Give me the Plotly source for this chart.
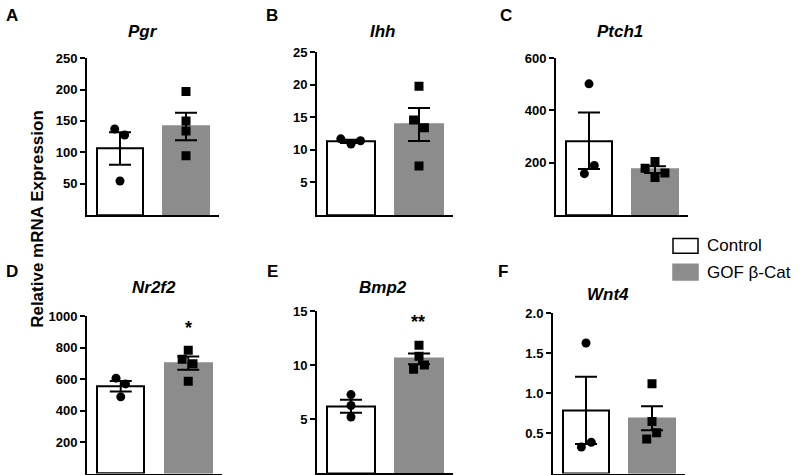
import plotly.graph_objects as go

W, H = 800, 475

# ---------------- data ----------------
genes = ["Pgr", "Ihh", "Ptch1", "Nr2f2", "Bmp2", "Wnt4"]
panel_letters = ["A", "B", "C", "D", "E", "F"]
groups = ["Control", "GOF β-Cat"]

ctrl_mean = [106, 11.3, 284, 555, 6.2, 0.79]
ctrl_sem = [26, 0.25, 108, 33, 0.6, 0.42]
gof_mean = [141, 13.9, 173, 703, 10.6, 0.69]
gof_sem = [22, 2.55, 13, 42, 0.5, 0.15]

ctrl_points = [
    [137, 127.5, 54],
    [11.7, 10.9, 11.4],
    [502, 189, 158],
    [607, 570, 488],
    [7.28, 6.27, 5.2],
    [1.63, 0.39, 0.33],
]
gof_points = [
    [197, 150, 134, 94.5],
    [19.8, 14.6, 13.4, 7.5],
    [204, 179, 160, 143],
    [785, 727, 698, 587],
    [11.86, 10.85, 10.03, 9.63],
    [1.12, 0.65, 0.51, 0.43],
]
y_ticks = [
    [50, 100, 150, 200, 250],
    [5, 10, 15, 20, 25],
    [200, 400, 600],
    [200, 400, 600, 800, 1000],
    [5, 10, 15],
    [0.5, 1.0, 1.5, 2.0],
]
y_max = [250, 25, 600, 1000, 15, 2.0]
significance = ["", "", "", "*", "**", ""]

# ---------------- layout constants ----------------
FONT = "Liberation Sans, Arial, sans-serif"
GRAY = "#8c8c8c"
# jitter of scatter points (x offsets from bar centre)
ctrl_jit = [[-0.08, 0.07, 0.0], [-0.15, 0.0, 0.14], [0.0, 0.08, -0.07],
            [-0.07, 0.07, 0.0], [0.0, 0.0, 0.0], [0.0, 0.08, -0.07]]
gof_jit = [[0, 0, 0, 0], [0, -0.08, 0.08, 0], [0, -0.15, 0.15, 0],
           [0, -0.09, 0.07, 0], [0, 0, 0.08, -0.08], [0, 0, 0.07, -0.08]]
# pixel domains
x_px = [(87, 219), (317, 453), (556, 688), (87, 222), (317, 453), (553, 685)]
y_px = [(52, 211), (46, 211), (52, 211), (314, 473.5), (309, 473), (311, 473.5)]
letter_px = [(12, 9), (272, 9), (506, 9), (12, 268), (272, 268), (503, 268)]
title_px = [(143, 25), (383, 25), (620, 25), (154, 285), (383, 285), (608, 292)]
sig_px = [None, None, None, (188, 326), (418, 320), None]


def px_x(x):
    return x / W


def px_y(y):
    return 1 - y / H


fig = go.Figure()
annotations = []
shapes = []

for i in range(6):
    n = i + 1
    xa = "x" if n == 1 else f"x{n}"
    ya = "y" if n == 1 else f"y{n}"

    fig.add_trace(go.Bar(
        x=[0, 1], y=[ctrl_mean[i], gof_mean[i]], width=0.7,
        marker=dict(color=["white", GRAY],
                    line=dict(color=["black", GRAY], width=2)),
        xaxis=xa, yaxis=ya, showlegend=False, hoverinfo="skip"))

    fig.add_trace(go.Scatter(
        x=[0 + j for j in ctrl_jit[i]], y=ctrl_points[i], mode="markers",
        marker=dict(symbol="circle", size=9, color="black"),
        xaxis=xa, yaxis=ya, showlegend=False))
    fig.add_trace(go.Scatter(
        x=[1 + j for j in gof_jit[i]], y=gof_points[i], mode="markers",
        marker=dict(symbol="square", size=9, color="black"),
        xaxis=xa, yaxis=ya, showlegend=False))

    fig.add_trace(go.Scatter(
        x=[0, 1], y=[ctrl_mean[i], gof_mean[i]], mode="markers",
        marker=dict(size=1, color="rgba(0,0,0,0)"),
        error_y=dict(type="data", array=[ctrl_sem[i], gof_sem[i]],
                     color="black", thickness=2, width=11),
        xaxis=xa, yaxis=ya, showlegend=False))

    x0, x1 = x_px[i]
    yt, yb = y_px[i]
    fig.layout[f"xaxis{'' if n == 1 else n}"] = dict(
        domain=[px_x(x0), px_x(x1)], range=[-0.5, 1.5], anchor=ya,
        showline=True, linecolor="black", linewidth=2, showticklabels=False,
        ticks="", showgrid=False, zeroline=False, fixedrange=True)
    fig.layout[f"yaxis{'' if n == 1 else n}"] = dict(
        domain=[px_y(yb), px_y(yt)], range=[0, y_max[i]], anchor=xa,
        showline=True, linecolor="black", linewidth=2,
        tickvals=y_ticks[i],
        ticktext=[(f"{v:.1f}" if i == 5 else f"{v:g}") for v in y_ticks[i]],
        ticks="outside", ticklen=5, tickwidth=2, tickcolor="black",
        tickfont=dict(family=FONT, size=13, color="black", weight="bold"),
        showgrid=False, zeroline=False, fixedrange=True)

    lx, ly = letter_px[i]
    annotations.append(dict(
        x=px_x(lx), y=px_y(ly), xref="paper", yref="paper",
        text=panel_letters[i], showarrow=False, xanchor="center", yanchor="middle",
        font=dict(family=FONT, size=17, color="black", weight="bold")))
    tx, ty = title_px[i]
    annotations.append(dict(
        x=px_x(tx), y=px_y(ty), xref="paper", yref="paper",
        text=f"<b><i>{genes[i]}</i></b>", showarrow=False,
        xanchor="center", yanchor="middle",
        font=dict(family=FONT, size=17, color="black")))
    if significance[i]:
        sx, sy = sig_px[i]
        annotations.append(dict(
            x=px_x(sx), y=px_y(sy), xref="paper", yref="paper",
            text=significance[i], showarrow=False, xanchor="center", yanchor="middle",
            font=dict(family=FONT, size=18, color="black", weight="bold")))

# y-axis title
annotations.append(dict(
    x=px_x(38), y=px_y(215), xref="paper", yref="paper",
    text="Relative mRNA Expression", textangle=-90, showarrow=False,
    xanchor="center", yanchor="middle",
    font=dict(family=FONT, size=17, color="black", weight="bold")))

# legend
leg = [((673, 235, 698, 250), "white", "black", 242.5),
       ((673, 261, 698, 277), GRAY, GRAY, 269)]
for (box, fc, lc, cy), label in zip(leg, groups):
    bx0, by0, bx1, by1 = box
    shapes.append(dict(type="rect", xref="paper", yref="paper",
                       x0=px_x(bx0), x1=px_x(bx1), y0=px_y(by1), y1=px_y(by0),
                       fillcolor=fc, line=dict(color=lc, width=1.5)))
    annotations.append(dict(
        x=px_x(705), y=px_y(cy), xref="paper", yref="paper", text=label,
        showarrow=False, xanchor="left", yanchor="middle",
        font=dict(family=FONT, size=17, color="black")))

fig.update_layout(
    width=W, height=H, margin=dict(l=0, r=0, t=0, b=0),
    paper_bgcolor="white", plot_bgcolor="white",
    annotations=annotations, shapes=shapes, bargap=0,
    font=dict(family=FONT, color="black"))

fig.write_html(
    "out.html",
    config={"displayModeBar": False},
    post_script="document.body.style.margin='0';document.body.style.padding='0';"
                "document.body.style.overflow='hidden';")
